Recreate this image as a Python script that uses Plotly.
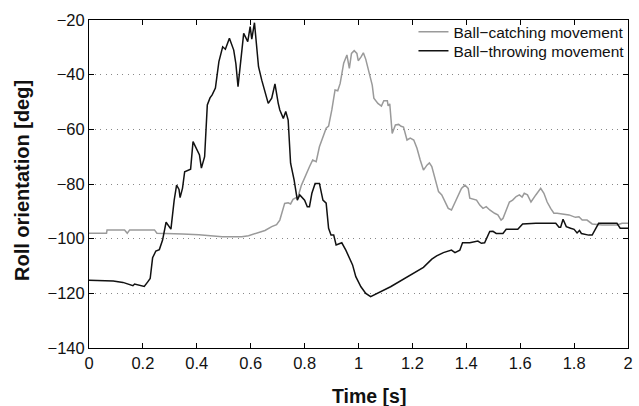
import plotly.graph_objects as go

# Ball-catching movement (gray)
t_catch = [0, 0.065, 0.067, 0.132, 0.142, 0.151, 0.243, 0.252, 0.347, 0.408, 0.494, 0.567, 0.592,
           0.629, 0.653, 0.678, 0.696, 0.708, 0.726, 0.739, 0.748, 0.757, 0.776, 0.788, 0.806,
           0.818, 0.83, 0.843, 0.855, 0.868, 0.88, 0.889, 0.901, 0.913, 0.923, 0.932, 0.945,
           0.957, 0.966, 0.974, 0.984, 0.994, 0.999, 1.009, 1.018, 1.027, 1.039, 1.051, 1.057,
           1.072, 1.085, 1.094, 1.107, 1.11, 1.116, 1.125, 1.137, 1.149, 1.158, 1.167, 1.18,
           1.192, 1.205, 1.217, 1.229, 1.241, 1.254, 1.263, 1.272, 1.284, 1.297, 1.309, 1.315,
           1.333, 1.345, 1.358, 1.37, 1.382, 1.395, 1.407, 1.413, 1.438, 1.45, 1.462, 1.474,
           1.487, 1.505, 1.517, 1.529, 1.536, 1.56, 1.572, 1.585, 1.597, 1.607, 1.615, 1.627,
           1.64, 1.658, 1.676, 1.688, 1.7, 1.713, 1.725, 1.737, 1.756, 1.781, 1.805, 1.818,
           1.83, 1.848, 1.867, 1.904, 1.959, 1.978, 2.0]
roll_catch = [-98, -98, -96.8, -96.8, -98, -96.8, -96.8, -98, -98.3, -98.6, -99.3, -99.3, -98.9,
              -97.8, -97, -95.6, -94.9, -93.2, -87.1, -86.9, -87.3, -85.6, -84.6, -80.5, -76.1,
              -73.7, -71.2, -71.8, -66.4, -62.7, -59.6, -58.8, -52.9, -45.6, -45.9, -43.2, -35.8,
              -32.8, -37.7, -32.2, -31.2, -32.2, -34.9, -33.6, -32, -34.4, -38.9, -43.8, -48.6,
              -50.5, -51.5, -49.5, -49.5, -51.4, -50.7, -61.5, -58.4, -58.2, -58.9, -59.2, -63.9,
              -63.2, -63.9, -66.9, -71.2, -74.9, -73.1, -72.3, -73.6, -78.5, -82.8, -84, -85.2,
              -88.9, -89.5, -86.6, -84, -81.6, -80.4, -81.6, -85.2, -85.9, -87.7, -88.9, -88.3,
              -89.5, -90.7, -91.3, -93.2, -92.6, -86.6, -85.9, -84.6, -84, -84.8, -83.4, -84,
              -86.6, -84, -81.6, -83.4, -86.6, -88.9, -90.7, -90.7, -91, -91.3, -92.2, -92,
              -93.2, -93.2, -94.6, -95, -95, -94.4, -94.4]

# Ball-throwing movement (black)
t_throw = [0, 0.09, 0.126, 0.163, 0.169, 0.188, 0.205, 0.218, 0.227, 0.236, 0.248, 0.261, 0.273,
           0.286, 0.296, 0.304, 0.316, 0.325, 0.334, 0.338, 0.347, 0.355, 0.377, 0.386, 0.41,
           0.417, 0.429, 0.439, 0.449, 0.457, 0.469, 0.482, 0.496, 0.506, 0.521, 0.537, 0.545,
           0.553, 0.574, 0.589, 0.598, 0.604, 0.614, 0.621, 0.629, 0.641, 0.665, 0.678, 0.69,
           0.702, 0.708, 0.721, 0.73, 0.739, 0.748, 0.761, 0.773, 0.782, 0.8, 0.81, 0.818,
           0.827, 0.839, 0.855, 0.868, 0.88, 0.889, 0.898, 0.908, 0.917, 0.929, 0.938, 0.953,
           0.978, 0.99, 1.009, 1.027, 1.045, 1.119, 1.18, 1.241, 1.272, 1.29, 1.315, 1.345,
           1.358, 1.376, 1.386, 1.413, 1.443, 1.456, 1.468, 1.487, 1.499, 1.511, 1.536, 1.548,
           1.591, 1.609, 1.658, 1.732, 1.744, 1.75, 1.759, 1.771, 1.787, 1.8, 1.811, 1.82,
           1.827, 1.854, 1.867, 1.891, 1.959, 1.971, 2.0]
roll_throw = [-115.2, -115.5, -116, -117.2, -116.6, -117, -117.5, -115.8, -114.6, -107, -104.5,
              -104, -100.5, -94, -95.5, -96.5, -86, -80.4, -82, -85, -81.5, -75.5, -74.6, -64.5,
              -69.4, -74.2, -70, -51.1, -48.5, -47.4, -44.9, -35.2, -29.8, -30.7, -26.7, -31,
              -36, -44.4, -24.9, -27.9, -22.4, -27, -21, -28, -37.1, -42, -50.5, -48.6, -43.4,
              -50.4, -52.9, -56, -53.5, -56.6, -72.4, -78.5, -85.9, -84, -85.9, -88.3, -88.3,
              -83.4, -79.8, -79.8, -85.9, -87, -96.2, -98.7, -98.7, -102.3, -101.7, -101.5,
              -104.2, -109.6, -113.9, -117.6, -120, -121.2, -117.6, -113.9, -110.5, -107.5,
              -106.3, -105.1, -104.2, -105.1, -104.2, -101.5, -101.5, -100.9, -101.7, -101.5,
              -97.4, -97.3, -98.1, -98.1, -96.6, -96.6, -94.6, -94.4, -94.4, -95.8, -95.8,
              -92.9, -95.6, -96.2, -96.6, -97.9, -97, -98.1, -98.7, -98.7, -94.4, -94.4,
              -96.2, -96.2]

x_ticks = [0, 0.2, 0.4, 0.6, 0.8, 1, 1.2, 1.4, 1.6, 1.8, 2]
y_ticks = [-140, -120, -100, -80, -60, -40, -20]

FONT = "Liberation Sans, Arial, Helvetica, sans-serif"

fig = go.Figure()
fig.add_trace(go.Scatter(x=t_catch, y=roll_catch, mode="lines", name="Ball\u2212catching movement",
                         line=dict(color="#9a9a9a", width=1.5), legend="legend"))
fig.add_trace(go.Scatter(x=t_throw, y=roll_throw, mode="lines", name="Ball\u2212throwing movement",
                         line=dict(color="#111111", width=1.5), legend="legend2"))

axis_common = dict(showline=True, linecolor="black", linewidth=1, mirror="ticks",
                   ticks="inside", ticklen=5, tickcolor="black", tickwidth=1,
                   zeroline=False, tickfont=dict(family=FONT, size=16.5, color="#111"))

fig.update_xaxes(range=[0, 2], tickvals=x_ticks, showgrid=False, **axis_common)
fig.update_yaxes(range=[-140, -20], tickvals=y_ticks, showgrid=True, gridcolor="#888",
                 griddash="1px,4.5px", gridwidth=1, **axis_common)

leg_common = dict(xanchor="left", yanchor="top", bgcolor="rgba(0,0,0,0)",
                  font=dict(family=FONT, size=15.5, color="#111"), itemwidth=30)

fig.update_layout(
    width=639, height=406,
    margin=dict(l=89, r=6, t=20, b=58),
    plot_bgcolor="white", paper_bgcolor="white",
    font=dict(family=FONT, color="#111"),
    showlegend=True,
    legend=dict(x=0.602, y=1.015, **leg_common),
    legend2=dict(x=0.602, y=0.957, **leg_common),
    annotations=[
        dict(text="Roll orientation [deg]", x=0, y=0.5, xref="paper", yref="paper",
             xanchor="center", yanchor="middle", xshift=-67, yshift=3, textangle=-90, showarrow=False,
             font=dict(family=FONT, size=20, color="#111", weight="bold")),
        dict(text="Time [s]", x=0.5, y=0, xref="paper", yref="paper",
             xanchor="center", yanchor="middle", xshift=10, yshift=-48, showarrow=False,
             font=dict(family=FONT, size=19.5, color="#111", weight="bold")),
    ],
)

fig.write_html("out.html")
